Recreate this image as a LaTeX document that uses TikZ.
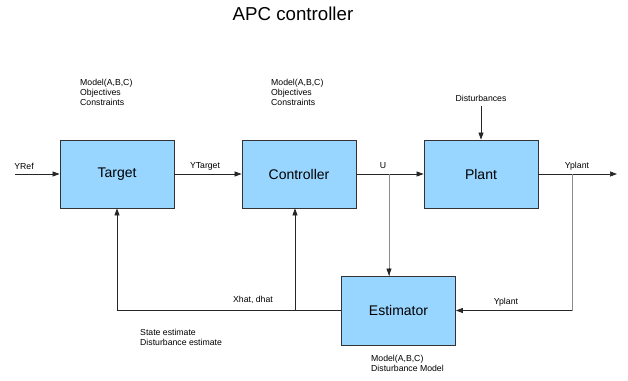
\documentclass[tikz,border=0pt]{standalone}
\usepackage{fontspec}
\setmainfont{Liberation Sans}
\usetikzlibrary{arrows.meta, positioning, calc}

\tikzset{
	blockbox/.style={draw=black!80, fill=blue!40!cyan!40, line width=0.8pt, minimum width=114pt, minimum height=68pt, font=\fontsize{14}{16}\selectfont},
	sig/.style={line width=0.7pt, draw=black!85, -{Triangle[length=7pt, width=5pt]}},
	tap/.style={line width=0.9pt, draw=black!45},
	lbl/.style={font=\fontsize{8.7}{10}\selectfont, inner sep=0pt, align=left}
}

\begin{document}
\begin{tikzpicture}[x=1pt, y=-1pt]
	\useasboundingbox (0,0) rectangle (628,380);
	\node[font=\fontsize{18.7}{20}\selectfont] (title) at (293,14) {APC controller};
	% blocks
	\node[blockbox] (target) at (117,174) {Target};
	\node[blockbox] (controller) at (299,174) {Controller};
	\node[blockbox] (plant) at (481,174) {Plant};
	\node[blockbox, minimum height=69pt] (estimator) at (398.5,310.5) {Estimator};
	% free ends and taps
	\coordinate (yref) at (15,174);
	\coordinate (yout) at (617,174);
	\coordinate (dist) at (481,106);
	\coordinate (utap) at (389,174);
	\coordinate (ytap) at (572,174);
	\coordinate (xtap) at (295,310.5);
	% forward path
	\draw[sig] (yref) -- (target);
	\draw[sig] (target) -- (controller);
	\draw[sig] (controller) -- (plant);
	\draw[sig] (plant) -- (yout);
	\draw[sig] (dist) -- (plant);
	% feedback
	\draw[tap] (utap) -- (utap |- estimator.north);
	\draw[sig] (utap |- 0,268) -- (utap |- estimator.north);
	\draw[tap] (ytap) -- (ytap |- estimator.east);
	\draw[sig] (ytap |- estimator.east) -- (estimator.east);
	\draw[sig] (estimator.west) -| (target.south);
	\draw[sig] (xtap) -- (xtap |- controller.south);
	% labels
	\node[lbl, anchor=west] (mtarget) at (80,92) {Model(A,B,C)\\Objectives\\Constraints};
	\node[lbl, anchor=west] (mcontroller) at (271,92) {Model(A,B,C)\\Objectives\\Constraints};
	\node[lbl] (ldist) at (481,98) {Disturbances};
	\node[lbl] (lyref) at (24,166) {YRef};
	\node[lbl] (lytarget) at (205,166) {YTarget};
	\node[lbl] (lu) at (383,166) {U};
	\node[lbl] (lyplant) at (577,166) {Yplant};
	\node[lbl] (lyest) at (506,302) {Yplant};
	\node[lbl] (lxhat) at (253,300) {Xhat, dhat};
	\node[lbl, anchor=west] (lstate) at (140,337) {State estimate\\Disturbance estimate};
	\node[lbl, anchor=west] (lmest) at (371,363.5) {Model(A,B,C)\\Disturbance Model};
\end{tikzpicture}
\end{document}
